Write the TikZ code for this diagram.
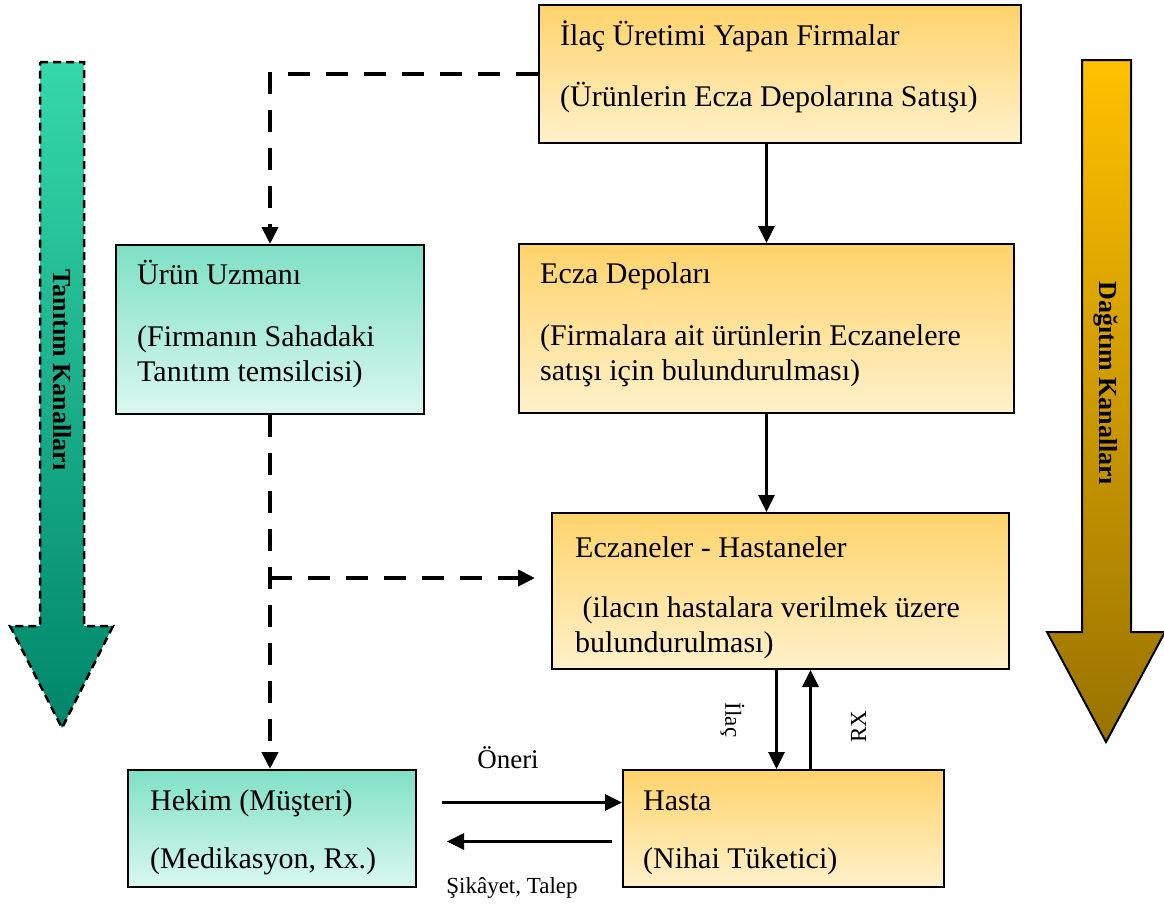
\documentclass[tikz,border=0pt]{standalone}
\usepackage{fontspec}
\setmainfont{Liberation Serif}
\usetikzlibrary{arrows.meta,calc}
\definecolor{otop}{HTML}{FFD36B}
\definecolor{obot}{HTML}{FFF1CB}
\definecolor{gtop}{HTML}{7FE0C5}
\definecolor{gbot}{HTML}{DAF8EF}
\definecolor{latop}{HTML}{35D8AA}
\definecolor{labot}{HTML}{00866A}
\definecolor{ratop}{HTML}{FFC000}
\definecolor{rabot}{HTML}{997300}
\tikzset{
  obox/.style={draw=black, line width=2pt, top color=otop, bottom color=obot, anchor=north west, inner sep=0pt},
  gbox/.style={draw=black, line width=2pt, top color=gtop, bottom color=gbot, anchor=north west, inner sep=0pt},
  boxtxt/.style={anchor=base west, inner sep=0pt, align=left, font=\fontsize{30}{35}\selectfont},
  lbl/.style={inner sep=0pt, font=\fontsize{23}{26}\selectfont},
  biglbl/.style={inner sep=0pt, font=\fontsize{26}{30}\selectfont\bfseries},
  solidarr/.style={line width=3pt, -{Triangle[length=17pt,width=16pt]}},
  dasharr/.style={line width=4pt, dash pattern=on 22pt off 16pt, -{Triangle[length=17pt,width=16pt]}}
}
\begin{document}
\begin{tikzpicture}[x=1pt,y=-1pt]
\useasboundingbox (0,0) rectangle (1164,905);

% big side arrows
\path[draw=black, line width=2.5pt, dash pattern=on 8pt off 5pt, top color=latop, bottom color=labot]
  (40,62) -- (84,62) -- (84,626) -- (113,626) -- (62,728) -- (10,626) -- (40,626) -- cycle;
\node[biglbl, rotate=-90] (tk) at (62,370) {Tanıtım Kanalları};
\path[draw=black, line width=2pt, top color=ratop, bottom color=rabot]
  (1082,60) -- (1131,60) -- (1131,632) -- (1165,632) -- (1106,742) -- (1047,632) -- (1082,632) -- cycle;
\node[biglbl, rotate=-90] (dk) at (1106,383) {Dağıtım Kanalları};

% boxes
\node[obox, minimum width=482, minimum height=138] (firma) at (538,4) {};
\node[boxtxt] (firmaA) at ($(firma.north west)+(22,41)$) {İlaç Üretimi Yapan Firmalar};
\node[boxtxt] (firmaB) at ($(firma.north west)+(22,102)$) {(Ürünlerin Ecza Depolarına Satışı)};

\node[obox, minimum width=495, minimum height=169] (depo) at (518,243) {};
\node[boxtxt] (depoA) at ($(depo.north west)+(22,40)$) {Ecza Depoları};
\node[boxtxt] (depoB) at ($(depo.north west)+(22,137)$) {(Firmalara ait ürünlerin Eczanelere\\satışı için bulundurulması)};

\node[obox, minimum width=457, minimum height=156] (eczane) at (551,512) {};
\node[boxtxt] (eczA) at ($(eczane.north west)+(24,45)$) {Eczaneler - Hastaneler};
\node[boxtxt] (eczB) at ($(eczane.north west)+(24,140)$) {\ (ilacın hastalara verilmek üzere\\bulundurulması)};

\node[gbox, minimum width=308, minimum height=169] (uzman) at (115,244) {};
\node[boxtxt] (uzA) at ($(uzman.north west)+(22,40)$) {Ürün Uzmanı};
\node[boxtxt] (uzB) at ($(uzman.north west)+(22,137)$) {(Firmanın Sahadaki\\Tanıtım temsilcisi)};

\node[gbox, minimum width=288, minimum height=117] (hekim) at (127,769) {};
\node[boxtxt] (hkA) at ($(hekim.north west)+(23,41)$) {Hekim (Müşteri)};
\node[boxtxt] (hkB) at ($(hekim.north west)+(23,99)$) {(Medikasyon, Rx.)};

\node[obox, minimum width=321, minimum height=117] (hasta) at (622,769) {};
\node[boxtxt] (hsA) at ($(hasta.north west)+(21,41)$) {Hasta};
\node[boxtxt] (hsB) at ($(hasta.north west)+(21,99)$) {(Nihai Tüketici)};

% connectors
\draw[dasharr] (firma.west) -| (uzman.north);
\draw[solidarr] (firma.south -| depo.north) -- (depo.north);
\draw[solidarr] (depo.south) -- (depo.south |- eczane.north);
\draw[dasharr] (uzman.south) -- (uzman.south |- hekim.north);
\coordinate (br) at ($(uzman.south |- eczane.west)+(0,-13)$);
\draw[dasharr, shorten >=16pt] (br) -- (br -| eczane.west);

\coordinate (ilA) at ($(eczane.south)+(-4,0)$);
\draw[solidarr] (ilA) -- (ilA |- hasta.north);
\coordinate (rxA) at ($(hasta.north)+(27,0)$);
\draw[solidarr] (rxA) -- (rxA |- eczane.south);
\node[lbl, rotate=-90] (ilac) at ($(ilA)+(-44,50)$) {İlaç};
\node[lbl, rotate=90] (rx) at ($(rxA)+(48,-42)$) {RX};

\coordinate (onS) at ($(hekim.east)+(25,-26)$);
\draw[solidarr] (onS) -- (onS -| hasta.west) ;
\coordinate (skS) at ($(hasta.west)+(-10,13)$);
\draw[solidarr] (skS) -- ($(skS -| hekim.east)+(30,0)$);
\node[lbl, font=\fontsize{27}{30}\selectfont] (oneri) at (508,758) {Öneri};
\node[lbl] (sikayet) at (512,888) {Şikâyet, Talep};
\end{tikzpicture}
\end{document}
